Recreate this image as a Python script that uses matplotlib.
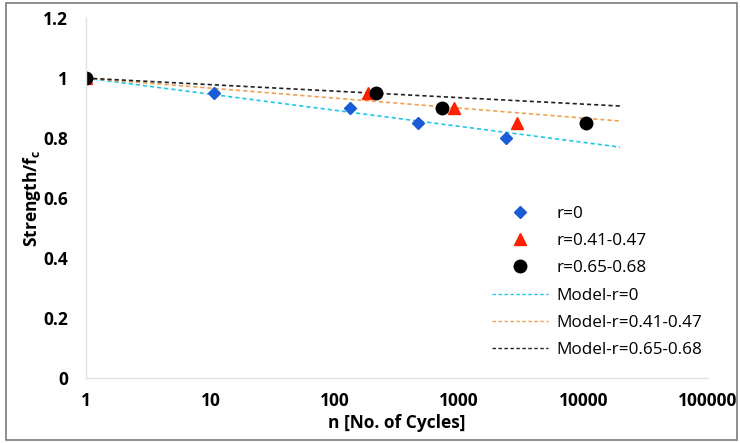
import matplotlib.pyplot as plt
from matplotlib.lines import Line2D
from matplotlib.patches import Rectangle

# test results: cycles to failure vs. normalised strength
n_r0 = [1, 10.7, 132, 467, 2400]
s_r0 = [1.0, 0.95, 0.90, 0.85, 0.80]
n_r41 = [1, 185, 910, 2900]
s_r41 = [1.0, 0.95, 0.90, 0.85]
n_r65 = [1, 214, 727, 10500]
s_r65 = [1.0, 0.95, 0.90, 0.85]

# model lines (straight on log axis): end points
n_model = [1, 19600]
s_model_r0 = [1.0, 0.77]
s_model_r41 = [1.0, 0.857]
s_model_r65 = [1.0, 0.907]

plt.rcParams['font.family'] = ['Open Sans', 'DejaVu Sans']

fig = plt.figure(figsize=(7.4, 4.43), dpi=100)
fig.patches.append(Rectangle((0.008, 0.006), 0.988, 0.988, transform=fig.transFigure,
                             fill=False, edgecolor='#7a7a7a', linewidth=1.2))
ax = fig.add_axes([0.1162, 0.1467, 0.8405, 0.8123])

dash = (0, (2.5, 1.8))
ax.plot(n_model, s_model_r0, color='#22c8e8', linestyle=dash, linewidth=1.2)
ax.plot(n_model, s_model_r41, color='#f0a050', linestyle=dash, linewidth=1.2)
ax.plot(n_model, s_model_r65, color='#222222', linestyle=dash, linewidth=1.2)

ax.plot(n_r0, s_r0, 'D', color='#1a5cd8', markersize=6.5, linestyle='none')
ax.plot(n_r41, s_r41, '^', color='#ff2000', markersize=8.5, linestyle='none')
ax.plot(n_r65, s_r65, 'o', color='black', markersize=9, linestyle='none')

ax.set_xscale('log')
ax.set_xlim(1, 100000)
ax.set_ylim(0, 1.2)
ax.set_xticks([1, 10, 100, 1000, 10000, 100000])
ax.set_xticklabels(['1', '10', '100', '1000', '10000', '100000'])
ax.set_yticks([0, 0.2, 0.4, 0.6, 0.8, 1.0, 1.2])
ax.set_yticklabels(['0', '0.2', '0.4', '0.6', '0.8', '1', '1.2'])
ax.minorticks_off()
ax.tick_params(length=0, labelsize=12.5)
ax.tick_params(axis='x', pad=10)
ax.tick_params(axis='y', pad=13)
for lbl in ax.get_xticklabels() + ax.get_yticklabels():
    lbl.set_fontweight('bold')

for side in ['top', 'right']:
    ax.spines[side].set_visible(False)
for side in ['left', 'bottom']:
    ax.spines[side].set_color('#e2e2e2')
    ax.spines[side].set_linewidth(1.0)

ax.set_xlabel('n [No. of Cycles]', fontsize=12.5, fontweight='bold', labelpad=3)
ax.set_ylabel('Strength/f$_\\mathregular{c}$', fontsize=12.5, fontweight='bold', labelpad=0)

handles = [
    Line2D([], [], marker='D', color='#1a5cd8', linestyle='none', markersize=6.5),
    Line2D([], [], marker='^', color='#ff2000', linestyle='none', markersize=8.5),
    Line2D([], [], marker='o', color='black', linestyle='none', markersize=9),
    Line2D([], [], color='#22c8e8', linestyle=dash, linewidth=1.0),
    Line2D([], [], color='#f0a050', linestyle=dash, linewidth=1.0),
    Line2D([], [], color='#222222', linestyle=dash, linewidth=1.0),
]
labels = ['r=0', 'r=0.41-0.47', 'r=0.65-0.68',
          'Model-r=0', 'Model-r=0.41-0.47', 'Model-r=0.65-0.68']
fig.legend(handles, labels, loc='upper left', bbox_to_anchor=(0.644, 0.57),
           frameon=False, fontsize=12.3, labelspacing=0.66, handlelength=3.3,
           handletextpad=0.5)

fig.savefig('out.png', dpi=100)
